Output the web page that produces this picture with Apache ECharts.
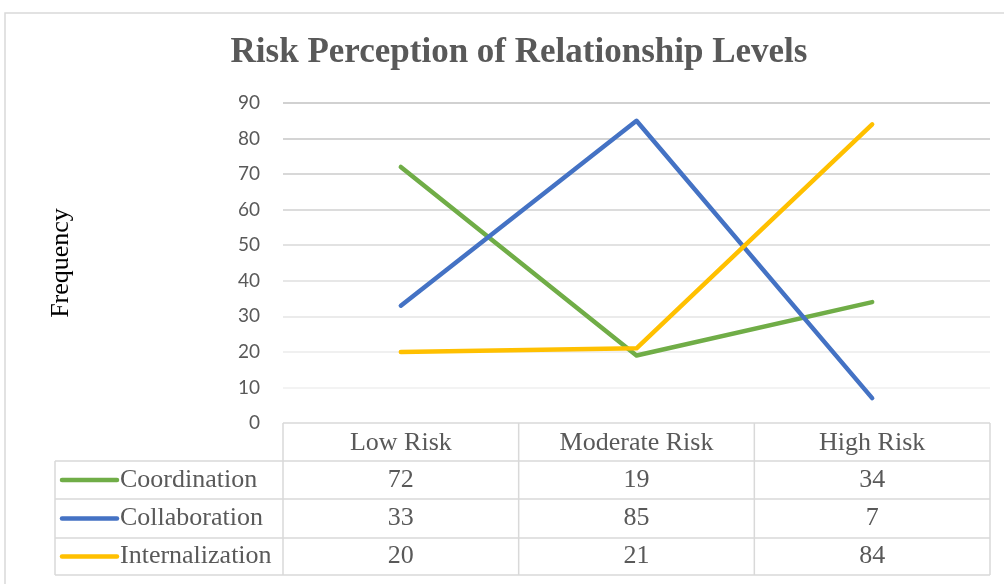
<!DOCTYPE html>
<html>
<head>
<meta charset="utf-8">
<script src="https://cdn.jsdelivr.net/npm/echarts@6/dist/echarts.min.js"></script>
<style>
  html, body { margin: 0; padding: 0; background: #ffffff; }
  #chart { width: 1004px; height: 584px; }
</style>
</head>
<body>
<div id="chart"></div>
<script>
// Risk levels shown along the x axis / table header
const categories = ['Low Risk', 'Moderate Risk', 'High Risk'];

// Frequencies per relationship level
const coordination = [72, 19, 34];
const collaboration = [33, 85, 7];
const internalization = [20, 21, 84];

const seriesNames = ['Coordination', 'Collaboration', 'Internalization'];
const seriesColors = ['#70AD47', '#4472C4', '#FFC000'];
const seriesValues = [coordination, collaboration, internalization];

// Value axis range
const yMin = 0;
const yMax = 90;
const yStep = 10;

const SERIF = '"Liberation Serif", "Times New Roman", serif';
const SANS = 'Lato, "Open Sans", sans-serif';

const chart = echarts.init(document.getElementById('chart'), null, { renderer: 'canvas' });

const gridLeft = 283, gridRight = 14, gridTop = 103, gridBottom = 161;

chart.setOption({
  animation: false,
  backgroundColor: '#ffffff',
  title: {
    text: 'Risk Perception of Relationship Levels',
    left: 514, top: 30, textAlign: 'center',
    textStyle: { fontFamily: SERIF, fontWeight: 'bold', fontSize: 35, color: '#595959' }
  },
  grid: { left: gridLeft, right: gridRight, top: gridTop, bottom: gridBottom },
  xAxis: {
    type: 'category',
    data: categories,
    boundaryGap: true,
    axisLine: { show: false },
    axisTick: { show: false },
    axisLabel: { show: false }
  },
  yAxis: {
    type: 'value',
    min: yMin, max: yMax, interval: yStep,
    name: 'Frequency',
    nameLocation: 'middle',
    nameRotate: 90,
    nameGap: 209,
    nameTextStyle: { fontFamily: SERIF, fontSize: 26, color: '#000000' },
    axisLine: { show: false },
    axisTick: { show: false },
    axisLabel: { margin: 23, fontFamily: SANS, fontSize: 19, color: '#595959' },
    splitLine: {
      lineStyle: {
        width: 1.5,
        color: ['#ffffff', '#efefef', '#ebebeb', '#e5e5e5', '#dfdfdf', '#d8d8d8', '#d0d0d0', '#cbcbcb', '#c6c6c6', '#c2c2c2']
      }
    }
  },
  series: seriesNames.map((name, i) => ({
    name: name,
    type: 'line',
    data: seriesValues[i],
    symbol: 'none',
    lineStyle: { width: 4.5, color: seriesColors[i], cap: 'round', join: 'round' },
    itemStyle: { color: seriesColors[i] }
  }))
});

// Data table under the plot, aligned with the category bands
function drawTable() {
  const border = '#d9d9d9';
  const bw = 1.5;
  const rowTops = [423, 461, 499, 538, 575];
  const tableLeft = 55;
  const keyX0 = 62, keyX1 = 117, labelX = 120;

  const centers = categories.map((c) => chart.convertToPixel({ xAxisIndex: 0 }, c));
  const band = centers.length > 1 ? centers[1] - centers[0] : 236;
  const colEdges = [centers[0] - band / 2].concat(centers.map((c) => c + band / 2));
  const right = colEdges[colEdges.length - 1];

  const els = [];
  const line = (x1, y1, x2, y2) => els.push({
    type: 'line', shape: { x1, y1, x2, y2 }, style: { stroke: border, lineWidth: bw }, silent: true
  });
  const text = (t, x, y, align) => els.push({
    type: 'text', x, y, silent: true,
    style: { text: t, fill: '#595959', font: '26px ' + SERIF, textAlign: align, textVerticalAlign: 'middle' }
  });

  // header row lines
  line(colEdges[0], rowTops[0], right, rowTops[0]);
  for (let r = 1; r < rowTops.length; r++) line(tableLeft, rowTops[r], right, rowTops[r]);
  line(tableLeft, rowTops[1], tableLeft, rowTops[4]);
  colEdges.forEach((x) => line(x, rowTops[0], x, rowTops[4]));

  // header labels
  categories.forEach((c, j) => text(c, centers[j], (rowTops[0] + rowTops[1]) / 2 + 1, 'center'));

  // series rows: legend key + name + values
  seriesNames.forEach((name, i) => {
    const yc = (rowTops[i + 1] + rowTops[i + 2]) / 2;
    els.push({
      type: 'line', silent: true,
      shape: { x1: keyX0, y1: yc, x2: keyX1, y2: yc },
      style: { stroke: seriesColors[i], lineWidth: 4.5, lineCap: 'round' }
    });
    text(name, labelX, yc, 'left');
    seriesValues[i].forEach((v, j) => text(String(v), centers[j], yc, 'center'));
  });

  // chart frame
  els.push({
    type: 'rect', silent: true,
    shape: { x: 5, y: 13, width: 1100, height: 700 },
    style: { fill: 'none', stroke: border, lineWidth: 1.5 }
  });

  chart.setOption({ graphic: { elements: els } });
}
drawTable();
</script>
</body>
</html>
